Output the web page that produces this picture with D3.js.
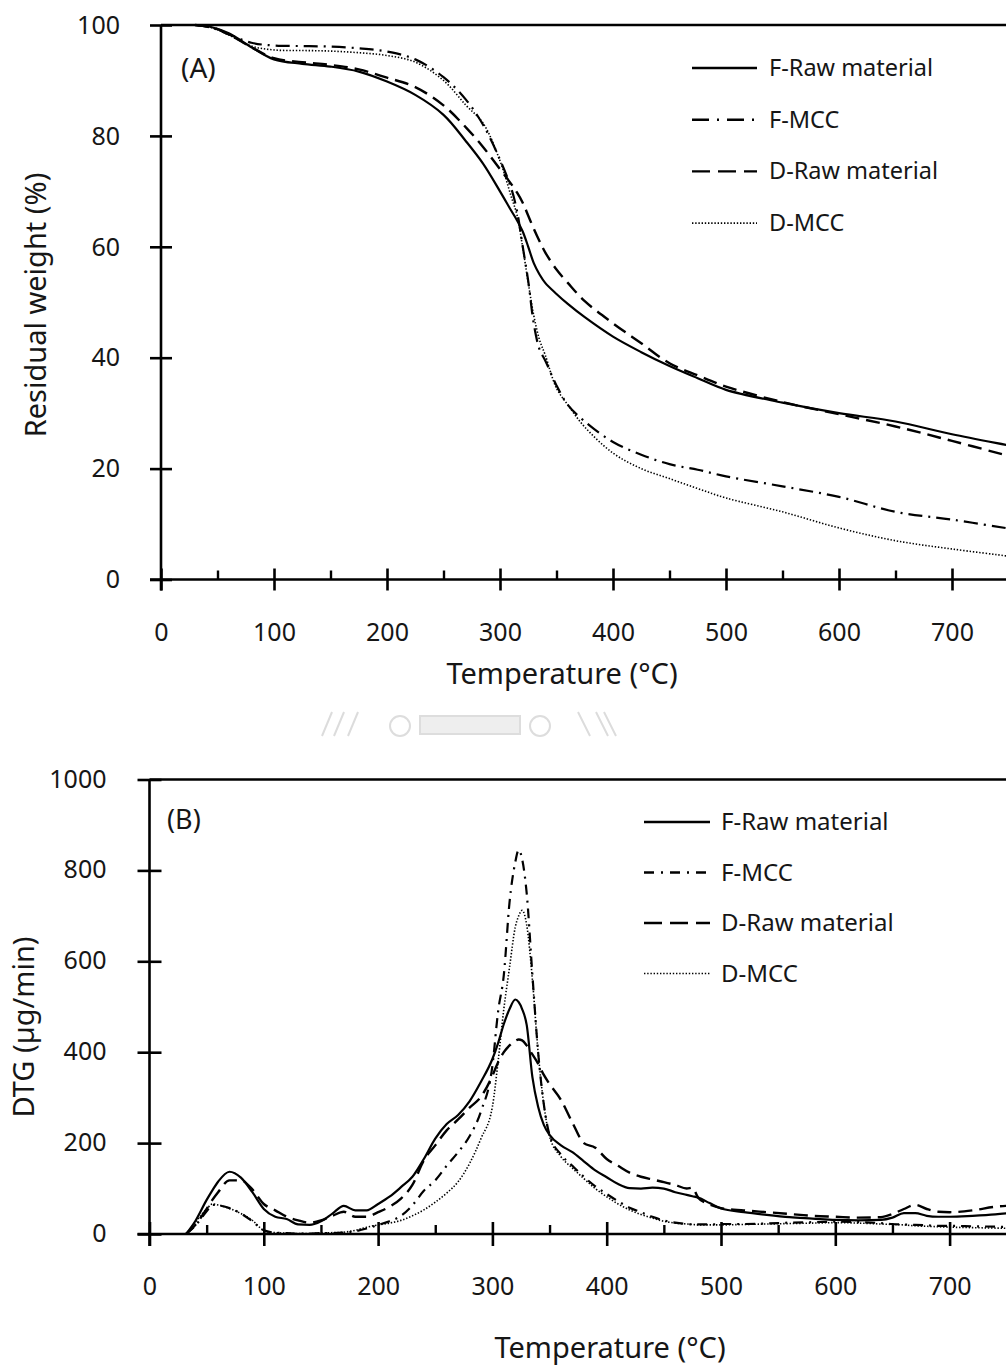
<!DOCTYPE html>
<html><head><meta charset="utf-8">
<script src="https://cdn.jsdelivr.net/npm/d3@7"></script>
<style>
html,body{margin:0;padding:0;background:#fff;}
svg{display:block;}
text{font-family:"Noto Sans","Open Sans",sans-serif;fill:#161616;}
</style></head>
<body>
<svg id="chart" width="1006" height="1368"></svg>
<script>
// ---------- DATA ----------
const seriesNames = ["F-Raw material", "F-MCC", "D-Raw material", "D-MCC"];
const xTicks = [0, 100, 200, 300, 400, 500, 600, 700];
const xMinorTicks = [50, 150, 250, 350, 450, 550, 650, 750];
const tgaTicks = [0, 20, 40, 60, 80, 100];
const dtgTicks = [0, 200, 400, 600, 800, 1000];

// (A) TGA: temperature (°C) and residual weight (%)
const tgaTemp = [30,45,60,80,100,125,150,175,200,225,250,270,285,300,310,315,320,325,330,335,340,350,360,375,400,425,450,475,500,550,600,650,700,750,760];
const tgaFRaw = [100,99.6,98.5,96,93.8,93,92.5,91.6,89.8,87.4,83.8,79,75,70,66.5,64.8,62.8,60,57,55,53.5,51.5,49.7,47.3,43.8,41,38.5,36.3,34.2,31.9,30,28.5,26.2,24.2,23.8];
const tgaFMCC = [100,99.5,98.3,96.8,96.3,96.2,96.1,95.8,95.2,93.8,90.6,86.5,82,75.7,70.5,66.5,60.2,53.8,46,41.5,39.5,35,31.5,28.5,24.8,22.5,20.8,19.8,18.6,16.8,14.9,12.2,10.8,9.2,8.9];
const tgaDRaw = [100,99.6,98.3,96,94,93.3,92.8,92,90.5,88.8,85.5,81.5,78,74,71.3,69.8,68,65.6,63.2,61,59,55.9,53.5,50.2,46.2,42.6,39,36.8,34.8,32,29.8,27.6,25,22.3,21.8];
const tgaDMCC = [100,99.5,98.2,96.2,95.5,95.4,95.3,95,94.5,93.3,90,85.5,82.3,75.5,69,65.8,60,53.5,47.5,43.2,40.5,34.5,31.5,27.5,22.8,20,18.2,16.4,14.7,12.2,9.3,7,5.5,4.2,3.9];

// (B) DTG: temperature (°C) and DTG (µg/min)
const dtgTemp = [32,40,50,55,60,70,80,90,100,110,120,130,140,150,160,170,180,190,200,210,220,230,240,250,260,270,280,290,300,305,310,315,320,323,326,330,335,340,345,350,360,370,380,390,400,410,420,430,440,450,460,470,475,480,490,500,520,540,560,580,600,620,640,650,660,670,680,690,700,720,740,760];
const dtgFRaw = [0,28,75,96,115,137,124,92,55,38,33,21,20,28,45,62,52,52,66,82,103,126,165,210,242,262,292,335,385,420,462,495,516,510,495,460,345,280,240,218,195,180,160,140,125,110,101,100,102,100,92,86,83,80,68,56,48,42,37,34,31,30,31,36,46,46,40,38,38,40,43,48];
const dtgFMCC = [0,18,50,64,63,57,45,28,8,3,2,1,1,2,2,3,6,12,20,28,40,63,95,118,150,180,215,270,370,490,570,730,818,845,825,750,570,400,285,218,175,150,126,105,88,72,58,48,38,30,25,22,21,21,21,22,22,23,25,26,27,26,24,22,21,20,19,18,18,17,16,15];
const dtgDRaw = [0,20,55,75,92,118,118,98,66,52,38,30,25,30,40,49,38,38,48,60,78,108,162,195,228,252,278,302,348,378,400,415,425,428,426,415,395,375,350,330,295,245,200,190,165,150,135,126,120,114,108,100,102,80,65,57,52,48,44,40,38,36,37,44,55,64,55,49,48,52,60,63];
const dtgDMCC = [0,25,55,66,64,56,45,30,8,3,2,1,1,2,3,4,8,15,20,24,30,40,53,70,90,115,155,210,280,380,495,587,675,700,712,680,560,400,285,215,170,145,122,100,82,66,53,43,35,28,24,22,21,20,20,20,21,22,23,24,25,24,22,21,20,18,17,16,15,14,13,12];

// ---------- STYLE ----------
const styles = [
  {dashA: null,          dashB: null,          w: 2.2},
  {dashA: "14,6,2,6",    dashB: "10,6,2,6",    w: 2.2},
  {dashA: "14,7",        dashB: "14,7",        w: 2.4},
  {dashA: "1.4,1.8",     dashB: "1.4,1.8",     w: 1.6}
];
const legDashA = [null, "17,8,2,8", "18,8", "1.4,1.8"];
const legDashB = [null, "10,7,2,7", "18,8", "1.4,1.8"];

const svg = d3.select("#chart");
const W = 1006;

function panel(cfg) {
  const g = svg.append("g");
  const x = d3.scaleLinear().domain([0, 800]).range(cfg.xr);
  const y = d3.scaleLinear().domain(cfg.ydom).range(cfg.yr);
  const ax = cfg.xr[0], ay = cfg.yr[0];

  // axis lines
  g.append("line").attr("x1", ax - cfg.tk).attr("x2", W).attr("y1", ay).attr("y2", ay)
    .attr("stroke", "#000").attr("stroke-width", 2.6);
  g.append("line").attr("x1", ax).attr("x2", W).attr("y1", cfg.yr[1]).attr("y2", cfg.yr[1])
    .attr("stroke", "#000").attr("stroke-width", 2.6);
  g.append("line").attr("x1", ax).attr("x2", ax).attr("y1", cfg.yr[1]).attr("y2", ay + cfg.tk)
    .attr("stroke", "#000").attr("stroke-width", 2.6);

  // x major ticks
  const xa = g.append("g").attr("transform", `translate(0,${ay})`)
    .call(d3.axisBottom(x).tickValues(xTicks).tickSize(cfg.tk).tickPadding(0).tickFormat(d3.format("d")));
  xa.select(".domain").remove();
  xa.selectAll(".tick line").attr("y1", -cfg.tk).attr("y2", cfg.tk).attr("stroke-width", 2.6);
  xa.selectAll(".tick text").attr("y", cfg.xlab).attr("dy", 0).attr("font-size", 25).attr("font-family", "Noto Sans").attr("fill", "#161616");
  // x minor ticks
  const xm = g.append("g").attr("transform", `translate(0,${ay})`)
    .call(d3.axisBottom(x).tickValues(xMinorTicks).tickSize(-9).tickFormat(""));
  xm.select(".domain").remove();
  xm.selectAll(".tick line").attr("stroke-width", 2.4);

  // y ticks
  const ya = g.append("g").attr("transform", `translate(${ax},0)`)
    .call(d3.axisLeft(y).tickValues(cfg.yticks).tickSize(cfg.tk).tickPadding(0).tickFormat(d3.format("d")));
  ya.select(".domain").remove();
  ya.selectAll(".tick line").attr("x1", -cfg.tk).attr("x2", cfg.tk).attr("stroke-width", 2.6);
  ya.selectAll(".tick text").attr("x", -cfg.ylab).attr("dy", cfg.ydy).attr("font-size", 25).attr("font-family", "Noto Sans").attr("fill", "#161616");

  // curves
  const line = d3.line().x(d => x(d[0])).y(d => y(d[1])).curve(cfg.curve);
  cfg.series.forEach((vals, i) => {
    const pts = cfg.temp.map((t, j) => [t, vals[j]]);
    const p = g.append("path").datum(pts).attr("d", line)
      .attr("fill", "none").attr("stroke", "#000").attr("stroke-width", styles[i].w)
      .attr("stroke-linejoin", "round");
    const da = cfg.dashKey === "A" ? styles[i].dashA : styles[i].dashB;
    if (da) p.attr("stroke-dasharray", da);
  });

  // panel label
  g.append("text").attr("x", cfg.lab[0]).attr("y", cfg.lab[1]).attr("font-size", cfg.labSize).text(cfg.label);

  // legend
  seriesNames.forEach((nm, i) => {
    const yy = cfg.leg.y0 + i * cfg.leg.dy;
    const l = g.append("line").attr("x1", cfg.leg.x1).attr("x2", cfg.leg.x2).attr("y1", yy).attr("y2", yy)
      .attr("stroke", "#000").attr("stroke-width", i === 3 ? 1.6 : 2.4);
    const dd = cfg.legDash[i];
    if (dd) l.attr("stroke-dasharray", dd);
    g.append("text").attr("x", cfg.leg.tx).attr("y", yy + 8).attr("font-size", cfg.leg.fs).attr("fill", "#2a2a2a").text(nm);
  });

  // axis titles
  g.append("text").attr("x", cfg.xt[0]).attr("y", cfg.xt[1]).attr("text-anchor", "middle")
    .attr("font-size", 29).text("Temperature (°C)");
  g.append("text").attr("transform", `translate(${cfg.yt[0]},${cfg.yt[1]}) rotate(-90)`).attr("text-anchor", "middle")
    .attr("font-size", 29).text(cfg.ytitle);
}

panel({
  xr: [161, 161 + 904], ydom: [0, 100], yr: [579.5, 25], tk: 11, xlab: 61, ylab: 41, ydy: "0.33em",
  yticks: tgaTicks, temp: tgaTemp, series: [tgaFRaw, tgaFMCC, tgaDRaw, tgaDMCC], dashKey: "A",
  curve: d3.curveCatmullRom.alpha(0.5),
  label: "(A)", lab: [181, 78], labSize: 28,
  leg: {x1: 692, x2: 757, tx: 769, y0: 68, dy: 51.7, fs: 23.5}, legDash: legDashA,
  xt: [562, 684], yt: [46, 305], ytitle: "Residual weight (%)"
});

panel({
  xr: [149.5, 149.5 + 914.4], ydom: [0, 1000], yr: [1234, 779.5], tk: 12, xlab: 61, ylab: 43, ydy: "0.3em",
  yticks: dtgTicks, temp: dtgTemp, series: [dtgFRaw, dtgFMCC, dtgDRaw, dtgDMCC], dashKey: "B",
  curve: d3.curveMonotoneX,
  label: "(B)", lab: [167, 829], labSize: 27,
  leg: {x1: 644, x2: 710, tx: 721, y0: 822, dy: 50.5, fs: 24}, legDash: legDashB,
  xt: [610, 1358], yt: [34, 1027], ytitle: "DTG (µg/min)"
});

// faint watermark strip between the panels
const wm = svg.append("g").attr("stroke", "#dcdcdc").attr("fill", "none").attr("stroke-width", 2);
[[322,736,332,712],[334,736,344,712],[348,736,358,712]].forEach(s => wm.append("line").attr("x1", s[0]).attr("y1", s[1]).attr("x2", s[2]).attr("y2", s[3]));
[[578,712,590,736],[596,712,608,736],[604,712,616,736]].forEach(s => wm.append("line").attr("x1", s[0]).attr("y1", s[1]).attr("x2", s[2]).attr("y2", s[3]));
wm.append("rect").attr("x", 420).attr("y", 716).attr("width", 100).attr("height", 18).attr("fill", "#eeeeee").attr("stroke", "#dddddd");
wm.append("circle").attr("cx", 400).attr("cy", 726).attr("r", 10).attr("stroke", "#dddddd");
wm.append("circle").attr("cx", 540).attr("cy", 726).attr("r", 10).attr("stroke", "#dddddd");
</script>
</body></html>
